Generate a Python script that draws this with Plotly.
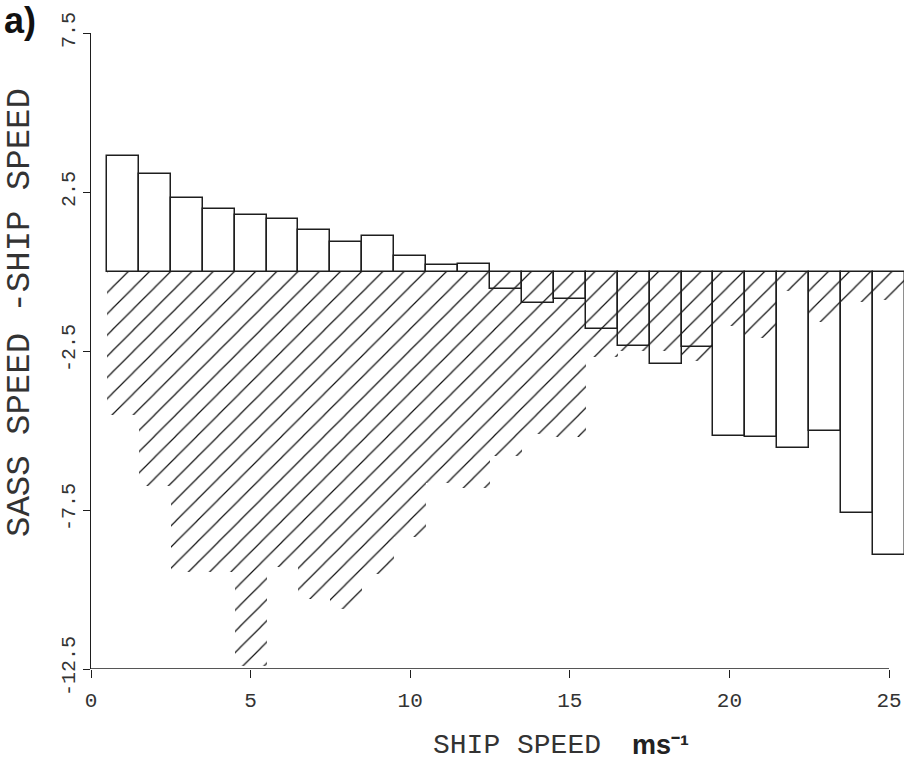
import plotly.graph_objects as go

# ---- data ----
ship_speed = list(range(1, 26))  # bin centres, m/s
mean_diff = [3.64, 3.07, 2.30, 1.96, 1.77, 1.65, 1.29, 0.94, 1.13, 0.49,
             0.22, 0.25, -0.55, -1.00, -0.87, -1.82, -2.34, -2.90, -2.36, -5.18,
             -5.19, -5.56, -5.01, -7.60, -8.90]
spread_low = [-4.5, -6.75, -9.45, -9.45, -12.4, -9.3, -10.3, -10.6, -9.5, -8.35,
              -6.65, -6.8, -5.8, -5.1, -5.2, -2.7, -2.5, -2.5, -2.8, -1.7,
              -2.1, -0.6, -1.6, -0.95, -0.9]
x_ticks = [0, 5, 10, 15, 20, 25]
y_ticks = [7.5, 2.5, -2.5, -7.5, -12.5]
y_ticktext = ["7.5", "2.5", "-2.5", "-7.5", "-12.5"]

INK = "#1e1e1e"
MONO = "Liberation Mono, DejaVu Sans Mono, monospace"
SANS = "Liberation Sans, Arial, sans-serif"

fig = go.Figure()

# hatched region
fig.add_trace(go.Bar(
    x=ship_speed, y=spread_low, base=0, width=1,
    marker=dict(color="white", line=dict(width=0),
                pattern=dict(shape="/", size=15, solidity=0.08,
                             fillmode="overlay", fgcolor="#111", fgopacity=1)),
    hoverinfo="skip", showlegend=False,
))

# outlined bars
fig.add_trace(go.Bar(
    x=ship_speed, y=mean_diff, base=0, width=1,
    marker=dict(color="rgba(0,0,0,0)", line=dict(color=INK, width=1.5)),
    showlegend=False,
))

L, T, B = 91, 33, 95
W, H = 904, 764
pw = W - L
ph = H - T - B

def px(p):
    return (p - L) / pw

def py(p):
    return (H - B - p) / ph

fig.update_layout(
    width=W, height=H,
    margin=dict(l=L, r=0, t=T, b=B, pad=0),
    paper_bgcolor="white", plot_bgcolor="white",
    barmode="overlay", bargap=0,
    xaxis=dict(range=[0, 25.47], tickvals=x_ticks, ticks="outside", ticklen=8,
               tickwidth=1.2, tickcolor=INK, showline=False, showgrid=False,
               zeroline=False, ticklabelstandoff=4,
               tickfont=dict(family=MONO, size=21, color="#333")),
    yaxis=dict(range=[-12.5, 7.5], tickvals=y_ticks, ticktext=y_ticktext,
               tickangle=-90, ticks="outside", ticklen=7, tickwidth=1.2,
               tickcolor=INK, showline=True, linecolor=INK, linewidth=1.3,
               showgrid=False, zeroline=False, ticklabelstandoff=0,
               tickfont=dict(family=MONO, size=20, color="#333")),
    shapes=[dict(type="line", xref="x", yref="y", x0=0, x1=25, y0=-12.5, y1=-12.5,
                 line=dict(color=INK, width=1.3))],
    annotations=[
        dict(text="<b>a)</b>", xref="paper", yref="paper", x=px(20), y=py(20),
             showarrow=False, font=dict(family=SANS, size=36, color="#111"),
             xanchor="center", yanchor="middle"),
        dict(text="SASS SPEED -SHIP SPEED", xref="paper", yref="paper",
             x=px(20), y=py(313), textangle=-90, showarrow=False,
             font=dict(family=MONO, size=34, color="#333"),
             xanchor="center", yanchor="middle"),
        dict(text="SHIP SPEED",
             xref="paper", yref="paper", x=px(517), y=py(745), showarrow=False,
             font=dict(family=MONO, size=28, color="#333"),
             xanchor="center", yanchor="middle"),
        dict(text="<b>ms⁻¹</b>", xref="paper", yref="paper",
             x=px(660), y=py(745), showarrow=False,
             font=dict(family=SANS, size=27, color="#222"),
             xanchor="center", yanchor="middle"),
    ],
)

fig.write_html("out.html")
